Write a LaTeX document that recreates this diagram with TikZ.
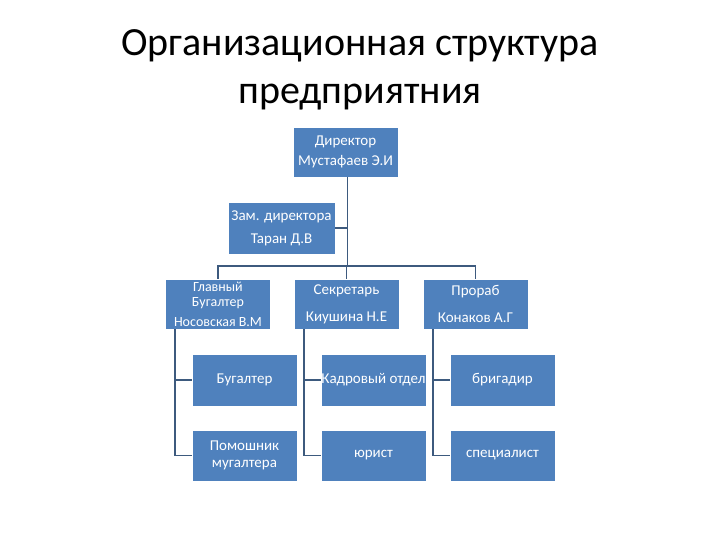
\documentclass[tikz,border=0pt]{standalone}
\usepackage{fontspec}
\setmainfont{Carlito}
\usepackage{tikz}
\definecolor{boxblue}{HTML}{4F81BD}
\definecolor{linkblue}{HTML}{3D5A7E}

\begin{document}
\begin{tikzpicture}[x=1pt, y=-1pt,
  unit/.style={fill=boxblue, draw=white, line width=0.6pt, text=white, font=\fontsize{15}{17}\selectfont, align=center, minimum width=105pt, minimum height=51pt, inner sep=0pt},
  link/.style={draw=linkblue, line width=1.6pt}]
  \useasboundingbox (0,0) rectangle (720,540);
  \node[font=\fontsize{40}{48}\selectfont, align=center] (title) at (360,70) {Организационная структура\\предприятния};
  \node[unit, minimum height=50pt] (dir) at (345.5,152) {Директор\\[3pt]Мустафаев Э.И};
  \node[unit, minimum width=107pt, minimum height=52pt] (zam) at (281.5,228) {Зам. директора\\[6pt]Таран Д.В};
  \node[unit, minimum height=50pt, font=\fontsize{14}{15}\selectfont] (gb) at (218,304) {Главный\\Бугалтер\\[5pt]Носовская В.М};
  \node[unit, minimum height=50pt] (sek) at (346.5,304) {Секретарь\\[10pt]Киушина Н.Е};
  \node[unit, minimum height=50pt] (prorab) at (475.5,304) {Прораб\\[10pt]Конаков А.Г};
  \node[unit, minimum height=52pt] (bug) at (244.5,380) {Бугалтер};
  \node[unit, minimum height=52pt] (kadr) at (373.5,380) {Кадровый отдел};
  \node[unit, minimum height=52pt] (brig) at (502.5,380) {бригадир};
  \node[unit] (pom) at (244.5,455.5) {Помошник\\мугалтера};
  \node[unit] (yur) at (373.5,455.5) {юрист};
  \node[unit] (spec) at (502.5,455.5) {специалист};
  \coordinate (bar) at (347.5,266);
  \coordinate (gbl) at ([xshift=10pt]gb.south west);
  \coordinate (sekl) at ([xshift=10pt]sek.south west);
  \coordinate (prorabl) at ([xshift=10pt]prorab.south west);
  \draw[link] ([xshift=2pt]dir.south) -- (bar);
  \draw[link] (zam.east) -- (zam.east -| bar);
  \draw[link] (gb.north) |- (bar) -| (prorab.north);
  \draw[link] (sek.north |- bar) -- (sek.north);
  \draw[link] (gbl) |- (pom.west);
  \draw[link] (gbl |- bug.west) -- (bug.west);
  \draw[link] (sekl) |- (yur.west);
  \draw[link] (sekl |- kadr.west) -- (kadr.west);
  \draw[link] (prorabl) |- (spec.west);
  \draw[link] (prorabl |- brig.west) -- (brig.west);
\end{tikzpicture}
\end{document}
